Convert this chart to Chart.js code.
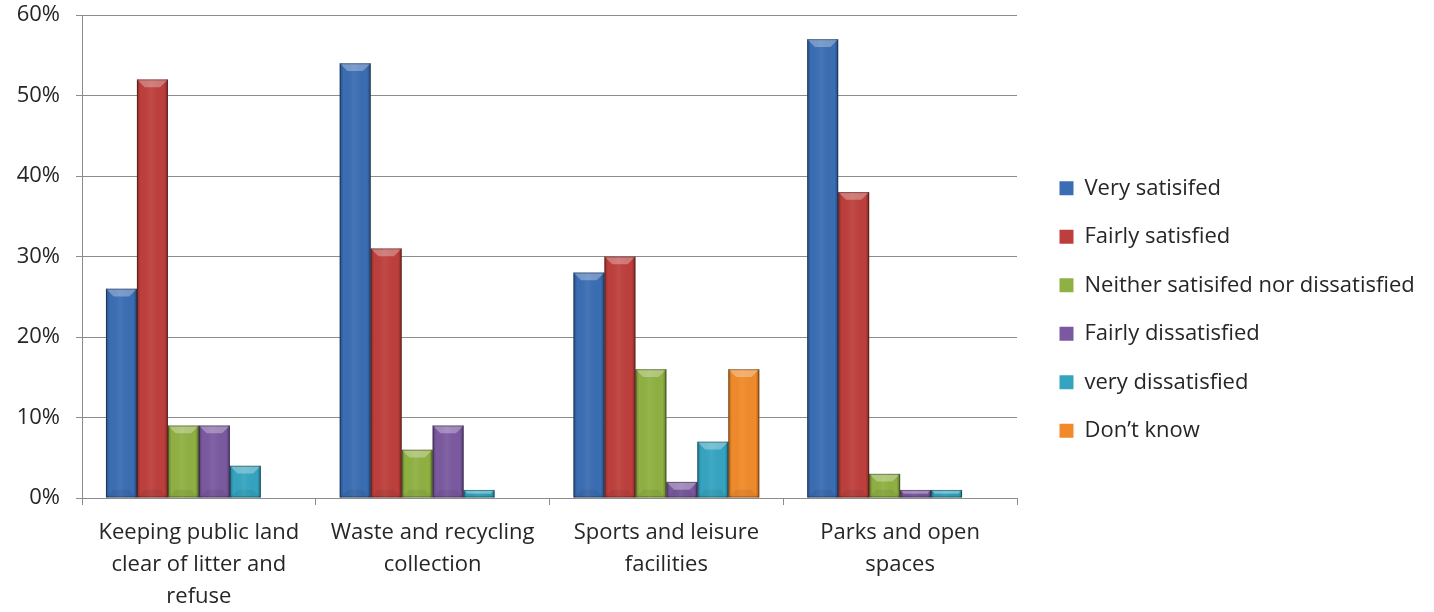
<!DOCTYPE html>
<html>
<head>
<meta charset="utf-8">
<script src="https://cdn.jsdelivr.net/npm/chart.js@4/dist/chart.umd.min.js"></script>
<style>
  html, body { margin: 0; padding: 0; background: #ffffff; }
  #wrap { width: 1434px; height: 612px; position: relative; }
</style>
</head>
<body>
<div id="wrap"><canvas id="chart" width="1434" height="612"></canvas></div>
<script>
// Services rated by residents
const categories = [
  ['Keeping public land', 'clear of litter and', 'refuse'],
  ['Waste and recycling', 'collection'],
  ['Sports and leisure', 'facilities'],
  ['Parks and open', 'spaces']
];

// Share of respondents (%) for each answer, per service
const verySatisfied      = [26, 54, 28, 57];
const fairlySatisfied    = [52, 31, 30, 38];
const neither            = [9, 6, 16, 3];
const fairlyDissatisfied = [9, 9, 2, 1];
const veryDissatisfied   = [4, 1, 7, 1];
const dontKnow           = [0, 0, 16, 0];

const seriesNames = [
  'Very satisifed',
  'Fairly satisfied',
  'Neither satisifed nor dissatisfied',
  'Fairly dissatisfied',
  'very dissatisfied',
  'Don\u2019t know'
];
const seriesValues = [verySatisfied, fairlySatisfied, neither, fairlyDissatisfied, veryDissatisfied, dontKnow];
const seriesColors = ['#3a6db3', '#bd3f3c', '#8fb042', '#7a59a0', '#35a4c0', '#f08a2a'];

const yTicks = [0, 10, 20, 30, 40, 50, 60];

const FONT = '"Open Sans", Lato, sans-serif';
const TEXT = '#262626';
const GRID = '#8c8c8c';
const LEGEND_WIDTH = 417; // room reserved for the legend on the right
const LEGEND_SHIFT_X = 16; // items sit this far right of the legend's default spot
const LEGEND_SHIFT_Y = -4;

// Bevelled, lightly shaded finish on every bar drawn by the library
const bevelPlugin = {
  id: 'bevel',
  afterDatasetsDraw(chart) {
    const ctx = chart.ctx;
    chart.data.datasets.forEach((ds, di) => {
      const meta = chart.getDatasetMeta(di);
      if (meta.hidden) return;
      meta.data.forEach(el => {
        const p = el.getProps(['x', 'y', 'base', 'width'], true);
        const left = p.x - p.width / 2, right = p.x + p.width / 2;
        const top = Math.min(p.y, p.base), bottom = Math.max(p.y, p.base);
        const h = bottom - top, w = right - left;
        if (h < 0.5) return;
        ctx.save();
        const g = ctx.createLinearGradient(left, 0, right, 0);
        g.addColorStop(0, 'rgba(0,0,0,0.28)');
        g.addColorStop(0.12, 'rgba(0,0,0,0.0)');
        g.addColorStop(0.45, 'rgba(255,255,255,0.06)');
        g.addColorStop(0.88, 'rgba(0,0,0,0.0)');
        g.addColorStop(1, 'rgba(0,0,0,0.32)');
        ctx.fillStyle = g;
        ctx.fillRect(left, top, w, h);
        const b = Math.min(8, h / 2, w / 4);
        ctx.beginPath();
        ctx.moveTo(left, top);
        ctx.lineTo(right, top);
        ctx.lineTo(right - b, top + b);
        ctx.lineTo(left + b, top + b);
        ctx.closePath();
        ctx.fillStyle = 'rgba(255,255,255,0.30)';
        ctx.fill();
        ctx.beginPath();
        ctx.moveTo(left, bottom);
        ctx.lineTo(right, bottom);
        ctx.lineTo(right - b, bottom - b);
        ctx.lineTo(left + b, bottom - b);
        ctx.closePath();
        ctx.fillStyle = 'rgba(0,0,0,0.06)';
        ctx.fill();
        ctx.strokeStyle = 'rgba(0,0,0,0.35)';
        ctx.lineWidth = 1;
        ctx.strokeRect(left + 0.5, top + 0.5, w - 1, h - 1);
        ctx.restore();
      });
    });
  }
};

// Fixed legend width, with items drawn a little further from the plot
const legendGapPlugin = {
  id: 'legendGap',
  afterInit(chart) {
    const lg = chart.legend;
    if (!lg || lg._gapWrapped) return;
    const fit = lg.fit.bind(lg);
    const draw = lg.draw.bind(lg);
    lg.fit = function () { fit(); this.width = LEGEND_WIDTH; };
    lg.draw = function () {
      const ctx = chart.ctx;
      ctx.save();
      ctx.translate(LEGEND_SHIFT_X, LEGEND_SHIFT_Y);
      draw();
      ctx.restore();
    };
    lg._gapWrapped = true;
  }
};

new Chart(document.getElementById('chart'), {
  type: 'bar',
  data: {
    labels: categories,
    datasets: seriesNames.map((name, i) => ({
      label: name,
      data: seriesValues[i],
      backgroundColor: seriesColors[i],
      borderWidth: 0,
      categoryPercentage: 0.795,
      barPercentage: 1.0
    }))
  },
  options: {
    responsive: false,
    animation: false,
    devicePixelRatio: 1,
    layout: { padding: { top: 15, right: 0, bottom: 0, left: 0 } },
    plugins: {
      tooltip: { enabled: false },
      legend: {
        position: 'right',
        align: 'center',
        labels: {
          font: { family: FONT, size: 22 },
          color: TEXT,
          boxWidth: 14,
          boxHeight: 14,
          padding: 26.5
        }
      }
    },
    scales: {
      x: {
        offset: true,
        grid: {
          offset: true,
          drawOnChartArea: false,
          drawTicks: true,
          tickLength: 7,
          color: GRID
        },
        border: { display: true, color: GRID, width: 1 },
        ticks: {
          font: { family: FONT, size: 22, lineHeight: 1.45 },
          color: TEXT,
          maxRotation: 0,
          autoSkip: false,
          padding: 12
        },
        afterFit(scale) { scale.height = 114; }
      },
      y: {
        min: 0,
        max: 60,
        afterBuildTicks(scale) { scale.ticks = yTicks.map(v => ({ value: v })); },
        grid: {
          color: GRID,
          tickLength: 6,
          drawTicks: true
        },
        border: { display: true, color: GRID, width: 1 },
        ticks: {
          font: { family: FONT, size: 22 },
          color: TEXT,
          padding: 16,
          callback: v => v + '%'
        },
        afterFit(scale) {
          scale.width = 82;
          scale.paddingTop = 0;
          scale.paddingBottom = 0;
        }
      }
    }
  },
  plugins: [bevelPlugin, legendGapPlugin]
});
</script>
</body>
</html>
